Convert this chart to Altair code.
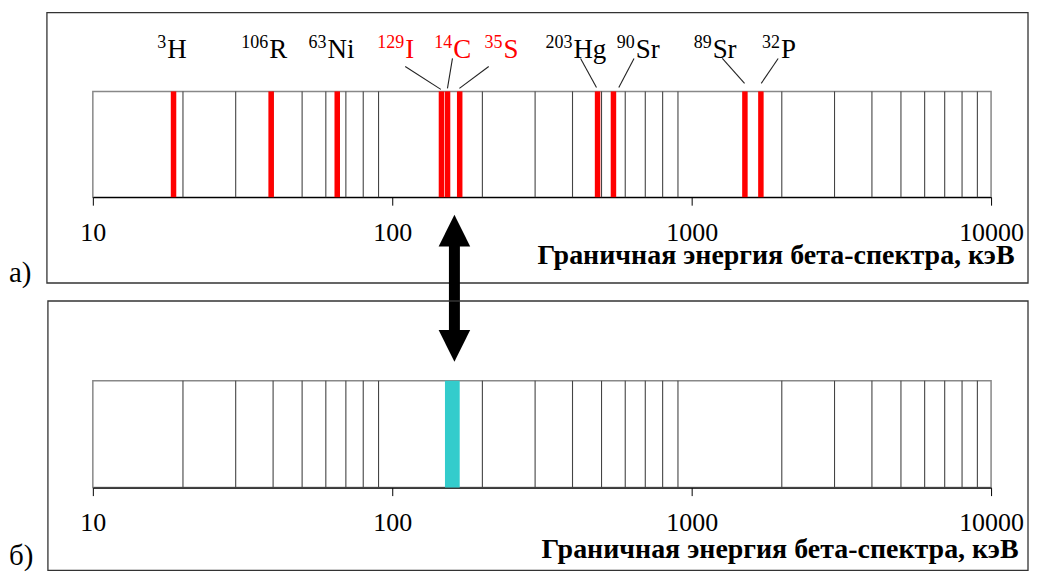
import altair as alt
import pandas as pd

# ---------------- data ----------------
mass_numbers = ["3", "106", "63", "129", "14", "35", "203", "90", "89", "32"]
symbols = ["H", "R", "Ni", "I", "C", "S", "Hg", "Sr", "Sr", "P"]
endpoint_kev = [18.6, 39.4, 65.5, 146, 153, 168, 485, 548, 1506, 1703]
highlight = [False, False, False, True, True, True, False, False, False, False]
label_anchor_kev = [17.6, 38.5, 60.3, 109.6, 158.5, 233.5, 399.6, 645.7, 1166, 1972]

leader_from_kev = [110.5, 158.9, 210, 425.6, 642, 1266, 1945]
leader_to_kev = [145.3, 152.9, 167.6, 481, 571, 1502, 1708]
leader_top = [131, 139, 131, 139, 139, 139, 139]
leader_bottom = [108, 109, 109, 110, 110, 114, 114]

grid_kev = [20, 30, 40, 50, 60, 70, 80, 90,
            200, 300, 400, 500, 600, 700, 800, 900,
            2000, 3000, 4000, 5000, 6000, 7000, 8000, 9000]
tick_kev = [10, 100, 1000, 10000]

band_start_kev = [150]
band_end_kev = [168]
arrow_kev = [161.3]

axis_title = "Граничная энергия бета-спектра, кэВ"
FONT = "Liberation Serif"

W = 900
H1 = 106
H2 = 107

iso = pd.DataFrame({
    "mass": mass_numbers, "sym": symbols, "e": endpoint_kev,
    "hl": highlight, "lx": label_anchor_kev,
})
leaders = pd.DataFrame({"a": leader_from_kev, "b": leader_to_kev,
                        "t": leader_top, "u": leader_bottom})
grid = pd.DataFrame({"v": grid_kev})
band = pd.DataFrame({"s": band_start_kev, "t": band_end_kev})
arrow = pd.DataFrame({"v": arrow_kev})
one = pd.DataFrame({"k": [0]})

xscale = alt.Scale(type="log", domain=[10, 10000], nice=False)


def make_axis(tx, ty):
    return alt.Axis(values=tick_kev, format="d", grid=False, tickSize=8,
                    tickColor="black", tickWidth=1, domainColor="black",
                    domainWidth=1.3, labelFont=FONT, labelFontSize=26,
                    labelColor="black", labelPadding=14, labelFlush=False,
                    labelOverlap=False, title=axis_title, titleFont=FONT,
                    titleFontSize=28, titleFontWeight="bold", titleColor="black",
                    titleAlign="right", titleBaseline="alphabetic",
                    titleX=tx, titleY=ty)


def panel(height, axis, letter, letter_y, frame_x, frame_y):
    def X(f):
        return alt.X(f, type="quantitative", scale=xscale, axis=axis)

    gridl = alt.Chart(grid).mark_rule(color="#444444", strokeWidth=1.1).encode(
        x=X("v"), y=alt.value(0), y2=alt.value(height))
    frame = alt.Chart(one).mark_rect(fillOpacity=0, stroke="#333333",
                                     strokeWidth=1.3, clip=False).encode(
        x=alt.value(frame_x[0]), x2=alt.value(frame_x[1]),
        y=alt.value(frame_y[0]), y2=alt.value(frame_y[1]))
    lab = alt.Chart(one).mark_text(text=letter, font=FONT, fontSize=29,
                                   align="left", baseline="alphabetic",
                                   color="black").encode(
        x=alt.value(-84), y=alt.value(letter_y))
    return X, [gridl, frame, lab]


# ---------------- top panel ----------------
X1, base1 = panel(H1, make_axis(923, 66), "а)", 191, (-46, 937), (-79, 192))
ysc = alt.Scale(domain=[0, H1])

bars = alt.Chart(iso).mark_rule(color="#ff0000", strokeWidth=5.5).encode(
    x=X1("e"), y=alt.value(0), y2=alt.value(H1))
color = alt.Color("hl:N", scale=alt.Scale(domain=[False, True], range=["black", "#ff0000"]),
                  legend=None)
sup = alt.Chart(iso).mark_text(font=FONT, fontSize=18, align="right",
                               baseline="alphabetic").encode(
    x=X1("lx"), y=alt.value(-43), text="mass:N", color=color)
sym = alt.Chart(iso).mark_text(font=FONT, fontSize=27, align="left",
                               baseline="alphabetic", dx=1).encode(
    x=X1("lx"), y=alt.value(-33), text="sym:N", color=color)
lead = alt.Chart(leaders).mark_rule(color="#222222", strokeWidth=1.1).encode(
    x=X1("a"), x2="b",
    y=alt.Y("t:Q", scale=ysc, axis=None), y2="u")

shaft = alt.Chart(arrow).mark_rule(color="black", strokeWidth=11).encode(
    x=X1("v"), y=alt.value(150), y2=alt.value(245))
head_up = alt.Chart(arrow).mark_point(shape="M0,-1L-1,1L1,1Z", size=1000,
                                      filled=True, color="black", opacity=1).encode(
    x=X1("v"), y=alt.value(139.5))
head_dn = alt.Chart(arrow).mark_point(shape="M0,1L-1,-1L1,-1Z", size=1000,
                                      filled=True, color="black", opacity=1).encode(
    x=X1("v"), y=alt.value(255))

top = alt.layer(*base1, bars, lead, sup, sym, shaft, head_up, head_dn).properties(
    width=W, height=H1)

# ---------------- bottom panel ----------------
X2, base2 = panel(H2, make_axis(927, 70), "б)", 185, (-45, 937), (-80, 190))
cyan = alt.Chart(band).mark_rect(color="#33cccc", opacity=1).encode(
    x=X2("s"), x2="t", y=alt.value(0), y2=alt.value(H2))
bottom = alt.layer(base2[0], cyan, *base2[1:]).properties(width=W, height=H2)

chart = alt.vconcat(top, bottom, spacing=184, bounds="flush").properties(
    padding={"left": 0, "top": 2, "right": 0, "bottom": 0}
).configure_view(stroke="#888888", strokeWidth=1.5)

chart.save("out.html", embed_options={"renderer": "svg", "actions": False})
